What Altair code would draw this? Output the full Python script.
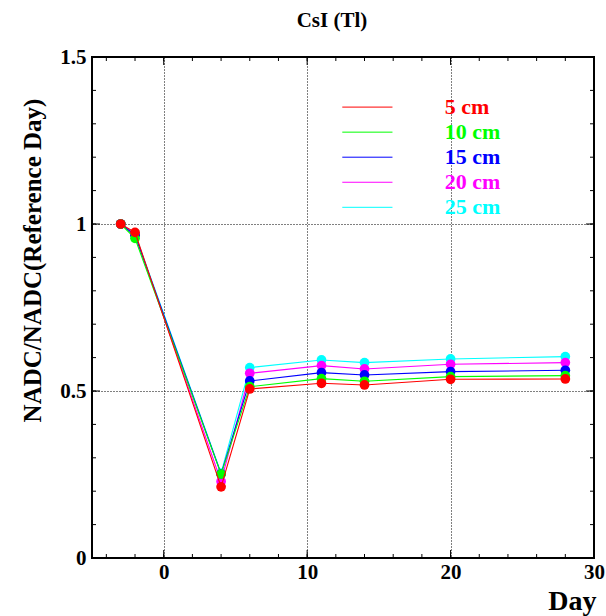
import altair as alt
import pandas as pd

# Measurement days relative to irradiation
DAYS = [-3, -2, 4, 6, 11, 14, 20, 28]

# Source position along the crystal and its colour
SERIES = ["5 cm", "10 cm", "15 cm", "20 cm", "25 cm"]
COLORS = ["#ff0000", "#00ff00", "#0000ff", "#ff00ff", "#00ffff"]

# Normalised ADC response per position
RESP_5 = [1.000, 0.975, 0.213, 0.506, 0.523, 0.518, 0.535, 0.536]
RESP_10 = [1.000, 0.957, 0.251, 0.513, 0.537, 0.529, 0.543, 0.546]
RESP_15 = [1.000, 0.966, 0.252, 0.530, 0.555, 0.548, 0.558, 0.562]
RESP_20 = [1.000, 0.968, 0.229, 0.553, 0.576, 0.566, 0.580, 0.585]
RESP_25 = [1.000, 0.970, 0.254, 0.570, 0.593, 0.585, 0.596, 0.603]
RESPONSES = [RESP_5, RESP_10, RESP_15, RESP_20, RESP_25]

# Axis labels and tick marks
X_LABELS = [0, 10, 20, 30]
Y_LABELS = [0, 0.5, 1, 1.5]
X_MAJOR = [0, 10, 20]
X_MINOR = [-4, -2, 0, 2, 4, 6, 8, 10, 12, 14, 16, 18, 20, 22, 24, 26, 28]
Y_MAJOR = [0.5, 1.0]
Y_MINOR = [0.1, 0.2, 0.3, 0.4, 0.5, 0.6, 0.7, 0.8, 0.9, 1.0, 1.1, 1.2, 1.3, 1.4]

W, H = 502, 501
FONT = "Liberation Serif"

x_scale = alt.Scale(domain=[-5, 30], nice=False, zero=False)
y_scale = alt.Scale(domain=[0, 1.5], nice=False, zero=False)

x_axis = alt.Axis(
    values=X_LABELS, format="d", title="Day",
    grid=True, gridColor="black", gridDash=[1, 2], gridWidth=1,
    ticks=False, domain=False, labelFlush=False, labelOverlap=False,
    labelFont=FONT, labelFontWeight="bold", labelFontSize=21,
    labelColor="black", labelPadding=3,
    titleFont=FONT, titleFontWeight="bold", titleFontSize=28,
    titleColor="black", titleX=W + 2, titleY=51, titleAlign="right",
    titleBaseline="alphabetic",
)
y_axis = alt.Axis(
    values=Y_LABELS, format="~g", title="NADC/NADC(Reference Day)",
    grid=True, gridColor="black", gridDash=[1, 2], gridWidth=1,
    ticks=False, domain=False, labelFlush=False, labelOverlap=False,
    labelFont=FONT, labelFontWeight="bold", labelFontSize=21,
    labelColor="black", labelPadding=6,
    titleFont=FONT, titleFontWeight="bold", titleFontSize=25,
    titleColor="black", titleX=-60, titleY=203, titleAngle=270,
    titleAlign="center", titleBaseline="middle",
)


def xenc(field):
    return alt.X(field, scale=x_scale, axis=x_axis)


def yenc(field):
    return alt.Y(field, scale=y_scale, axis=y_axis)


rows = []
for name, vals in zip(SERIES, RESPONSES):
    for d, v in zip(DAYS, vals):
        rows.append({"day": d, "resp": v, "series": name})
data = pd.DataFrame(rows)

layers = []
# deepest position drawn first so the 5 cm curve ends up on top
for name, color in reversed(list(zip(SERIES, COLORS))):
    sub = alt.Chart(data).transform_filter(alt.datum.series == name)
    layers.append(sub.mark_line(color=color, strokeWidth=1.1).encode(
        x=xenc("day:Q"), y=yenc("resp:Q")))
    layers.append(sub.mark_circle(color=color, size=95, opacity=1).encode(
        x=xenc("day:Q"), y=yenc("resp:Q")))


def x_ticks(values, length, top):
    df = pd.DataFrame({"v": values})
    y0, y1 = (0, length) if top else (H, H - length)
    return alt.Chart(df).mark_rule(color="black", strokeWidth=1).encode(
        x=xenc("v:Q"), y=alt.value(y0), y2=alt.value(y1))


def y_ticks(values, length, right):
    df = pd.DataFrame({"v": values})
    x0, x1 = (W, W - length) if right else (0, length)
    return alt.Chart(df).mark_rule(color="black", strokeWidth=1).encode(
        y=yenc("v:Q"), x=alt.value(x0), x2=alt.value(x1))


tick_layers = [
    x_ticks(X_MINOR, 4, False), x_ticks(X_MINOR, 4, True),
    x_ticks(X_MAJOR, 8, False), x_ticks(X_MAJOR, 8, True),
    y_ticks(Y_MINOR, 4, False), y_ticks(Y_MINOR, 4, True),
    y_ticks(Y_MAJOR, 8, False), y_ticks(Y_MAJOR, 8, True),
]

# Legend block placed in data coordinates inside the frame
LEG_X1, LEG_X2, LEG_TX = 12.45, 15.95, 19.6
LEG_Y0, LEG_DY = 1.35, 0.075
legend = pd.DataFrame({
    "label": SERIES,
    "color": COLORS,
    "y": [LEG_Y0 - LEG_DY * i for i in range(len(SERIES))],
    "x1": [LEG_X1] * len(SERIES),
    "x2": [LEG_X2] * len(SERIES),
    "tx": [LEG_TX] * len(SERIES),
})
leg_lines = alt.Chart(legend).mark_rule(strokeWidth=1).encode(
    x=xenc("x1:Q"), x2="x2:Q", y=yenc("y:Q"),
    color=alt.Color("color:N", scale=None))
leg_text = alt.Chart(legend).mark_text(
    align="left", baseline="middle", font=FONT, fontSize=22, fontWeight="bold"
).encode(
    x=xenc("tx:Q"), y=yenc("y:Q"), text="label:N",
    color=alt.Color("color:N", scale=None))

# Plot title drawn as text above the frame
title_df = pd.DataFrame({"t": ["CsI (Tl)"]})
title = alt.Chart(title_df).mark_text(
    align="center", baseline="alphabetic", font=FONT, fontSize=21,
    fontWeight="bold", color="black"
).encode(text="t:N", x=alt.value(240), y=alt.value(-30))

chart = alt.layer(*layers, *tick_layers, leg_lines, leg_text, title).properties(
    width=W, height=H,
    padding={"left": 92, "top": 57, "right": 12, "bottom": 58},
    autosize=alt.AutoSizeParams(type="none"),
    background="white",
).configure_view(
    stroke="black", strokeWidth=2
).configure_axis(
    labelFont=FONT, titleFont=FONT, labelFontWeight="bold", titleFontWeight="bold"
)

chart.save("out.html", embed_options={"renderer": "svg", "actions": False})
